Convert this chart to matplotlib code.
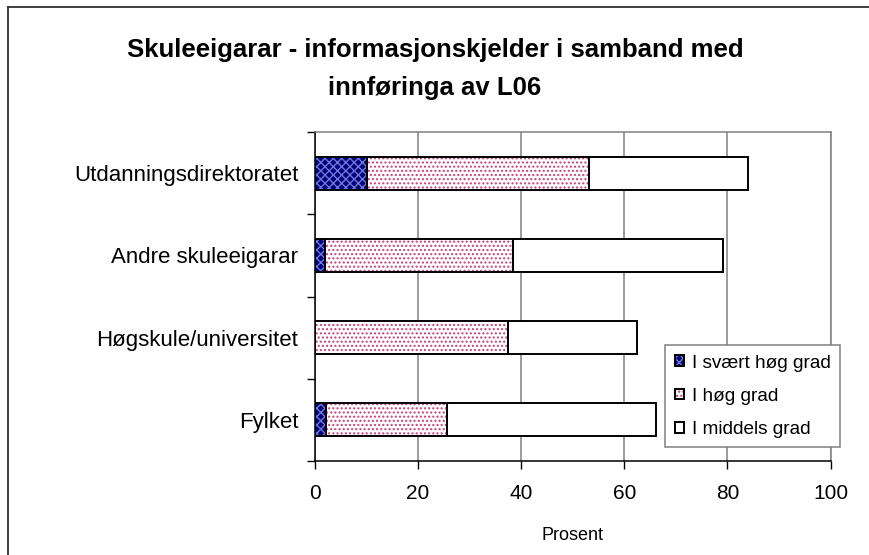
import matplotlib
matplotlib.use("Agg")
import matplotlib.pyplot as plt
import numpy as np
from matplotlib.lines import Line2D

plt.rcParams['font.family'] = ['Liberation Sans', 'DejaVu Sans']
plt.rcParams['hatch.linewidth'] = 1.0

# data, top category first
categories = ['Utdanningsdirektoratet', 'Andre skuleeigarar',
              'Høgskule/universitet', 'Fylket']
svaert_hog = [10.1, 2.0, 0.0, 2.1]
hog = [43.0, 36.5, 37.4, 23.5]
middels = [30.9, 40.6, 25.0, 40.5]
series_names = ['I svært høg grad', 'I høg grad', 'I middels grad']
x_ticks = [0, 20, 40, 60, 80, 100]

W, H = 870, 555
fig = plt.figure(figsize=(W / 100, H / 100), dpi=100)
fig.patch.set_facecolor('white')

# plot area in pixels
left, right, top, bottom = 315, 830.5, 132, 461
ax = fig.add_axes([left / W, 1 - bottom / H, (right - left) / W, (bottom - top) / H])

y = np.arange(len(categories))
bar_h = 0.4

series = [svaert_hog, hog, middels]
styles = [
    dict(face='#000080', hatch='xxxx', hcol='#7078d0'),
    dict(face='white', hatch='....', hcol='#c8407a'),
    dict(face='white', hatch=None, hcol='white'),
]

handles = []
lefts = np.zeros(len(categories))
for vals, st in zip(series, styles):
    vals = np.array(vals)
    fill = ax.barh(y, vals, height=bar_h, left=lefts, color=st['face'],
                   hatch=st['hatch'], edgecolor=st['hcol'], linewidth=0, zorder=3)
    edge = ax.barh(y, vals, height=bar_h, left=lefts, fill=False,
                   edgecolor='black', linewidth=1.4, zorder=4)
    # skip outline for empty segments
    for v, p in zip(vals, edge.patches):
        if v == 0:
            p.set_visible(False)
    handles.append((fill.patches[0], edge.patches[0]))
    lefts = lefts + vals

ax.set_xlim(0, 100)
ax.set_ylim(len(categories) - 0.5, -0.5)
ax.set_xticks(x_ticks)
ax.set_xticklabels([str(t) for t in x_ticks], fontsize=15)
ax.tick_params(axis='x', length=5.5, width=1, pad=11, color='black')

ax.set_yticks(y)
ax.set_yticklabels(categories, fontsize=16)
ax.set_yticks(np.arange(len(categories) + 1) - 0.5, minor=True)
ax.tick_params(axis='y', which='major', length=0, pad=12)
ax.tick_params(axis='y', which='minor', length=5.5, width=1, color='black')

ax.xaxis.grid(True, color='#808080', linewidth=1.1, zorder=0)
ax.set_axisbelow(True)
for s in ['left', 'bottom']:
    ax.spines[s].set_color('black')
    ax.spines[s].set_linewidth(1.1)
for s in ['top', 'right']:
    ax.spines[s].set_color('#808080')
    ax.spines[s].set_linewidth(1.1)

ax.set_xlabel('Prosent', fontsize=13, labelpad=17)

leg = ax.legend(handles, series_names, loc='upper left',
                bbox_to_anchor=((665 - left) / (right - left), 1 - (345 - top) / (bottom - top)),
                fontsize=13.7, frameon=True, fancybox=False, framealpha=1,
                edgecolor='#808080', handlelength=0.5, handleheight=0.5,
                handletextpad=0.4, labelspacing=0.85, borderpad=0.5,
                borderaxespad=0)
leg.get_frame().set_linewidth(1.1)
leg.set_zorder(10)

fig.text(0.5, 1 - 69 / H, 'Skuleeigarar - informasjonskjelder i samband med\ninnføringa av L06',
         ha='center', va='center', fontsize=18.5, fontweight='bold', linespacing=1.75)

# chart border (only the left and top edges fall inside the picture)
fig.add_artist(Line2D([8 / W, 8 / W], [0, 1 - 7 / H], color='#303030', linewidth=1.3,
                      transform=fig.transFigure))
fig.add_artist(Line2D([8 / W, 1], [1 - 7 / H, 1 - 7 / H], color='#303030', linewidth=1.3,
                      transform=fig.transFigure))

fig.savefig('out.png', dpi=100)
